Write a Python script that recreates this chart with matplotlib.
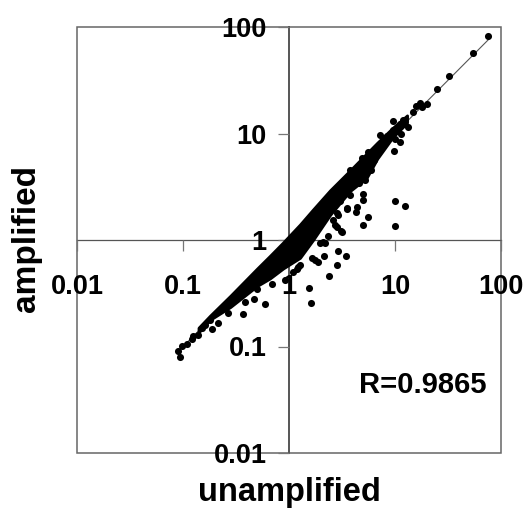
import matplotlib
matplotlib.use("Agg")
import matplotlib.pyplot as plt

plt.rcParams['font.family'] = ['Liberation Sans', 'DejaVu Sans']

# dense cloud, outline
band_x = [0.14, 0.18, 0.28, 0.5, 0.66, 0.88, 1.27, 1.68, 2.44, 3.76, 5.4, 6.8, 9.5, 13]
band_high = [0.15, 0.195, 0.30, 0.54, 0.71, 0.95, 1.4, 1.93, 2.93, 4.5, 6.5, 8.2, 11.3, 14.8]
band_low = [0.135, 0.178, 0.235, 0.37, 0.435, 0.54, 0.68, 0.995, 1.72, 2.88, 3.83, 5.8, 9.2, 12.6]

# separate points around the cloud
point_x = [9.9, 12.5, 9.9, 5.0, 5.6, 4.4, 4.3, 5.0, 5.0, 2.92, 3.45, 2.14, 2.82, 2.4, 1.54, 1.6,
           0.92, 0.69, 9.8, 11.1, 11.3,
           0.094, 0.089, 0.097, 0.121, 0.6, 0.37, 0.47,
           74.9, 54, 32, 25, 19.9, 17.4, 15.8, 17.8, 14.8, 11.9, 11.1, 9.5, 13.3, 9.6, 8.4, 10,
           2.9, 2.72, 3.07, 2.35, 1.96, 2.18, 1.64, 1.88, 1.27, 1.18, 3.5, 3.76, 5.2,
           1.09, 0.5, 0.385, 0.266, 0.214, 0.186, 0.139, 0.15, 0.18,
           4.85, 5.56, 7.2, 3.76, 0.125, 0.16, 0.11,
           2.84, 3.16, 2.84, 3.5, 2.1, 1.76, 1.22, 2.6, 3.0, 4.6, 5.9, 6.4]
point_y = [2.3, 2.1, 1.36, 1.39, 1.66, 2.03, 1.85, 2.72, 2.38, 0.79, 0.71, 0.71, 0.58, 0.455, 0.355, 0.258,
           0.42, 0.385, 6.8, 8.4, 10,
           0.079, 0.09, 0.102, 0.117, 0.249, 0.204, 0.28,
           81.7, 56.4, 34.6, 26, 19, 19.5, 18, 17.6, 15.8, 13.5, 12.2, 13, 11.4, 10.9, 9.4, 8.8,
           1.72, 1.39, 1.22, 1.09, 0.94, 0.94, 0.68, 0.62, 0.58, 0.54, 1.96, 2.66, 3.68,
           0.5, 0.35, 0.26, 0.205, 0.165, 0.145, 0.127, 0.149, 0.176,
           5.9, 6.66, 9.6, 4.5, 0.125, 0.16, 0.105,
           1.33, 1.19, 1.8, 2.0, 0.96, 0.65, 0.56, 1.55, 2.3, 3.4, 4.5, 5.6]

line_x = [0.09, 80]
line_y = [0.09, 80]

ticks = [0.01, 0.1, 1, 10, 100]
tick_labels = ['0.01', '0.1', '1', '10', '100']

fig = plt.figure(figsize=(5.25, 5.08), dpi=100)
ax = fig.add_axes([77 / 525, 1 - 453 / 508, 424 / 525, 426 / 508])
ax.set_xscale('log')
ax.set_yscale('log')
ax.set_xlim(0.01, 100)
ax.set_ylim(0.01, 100)

ax.plot(line_x, line_y, color='#555555', lw=0.8, zorder=2)
ax.fill_between(band_x, band_low, band_high, color='black', lw=2, zorder=3)
ax.scatter(point_x, point_y, s=26, color='black', lw=0, zorder=3)

# axes cross in the middle, box round the outside
ax.patch.set_edgecolor('#666666')
ax.patch.set_linewidth(1.1)
ax.spines['top'].set_visible(False)
ax.spines['right'].set_visible(False)
ax.spines['left'].set_position(('data', 1))
ax.spines['bottom'].set_position(('data', 1))
ax.spines['left'].set_color('#555555')
ax.spines['left'].set_linewidth(1.4)
ax.spines['bottom'].set_color('#555555')
ax.spines['bottom'].set_linewidth(0.9)
ax.spines['left'].set_zorder(1)
ax.spines['bottom'].set_zorder(1)

ax.set_xticks(ticks)
ax.set_xticklabels(tick_labels, fontsize=19.5, fontweight='bold')
ax.set_yticks(ticks)
ax.set_yticklabels(tick_labels, fontsize=19.5, fontweight='bold')
ax.minorticks_off()
ax.tick_params(axis='x', length=8, width=0.9, color='#777777', pad=16.5)
ax.tick_params(axis='y', length=8, width=0.9, color='#777777', pad=8)
for lab in ax.get_xticklabels() + ax.get_yticklabels():
    lab.set_clip_on(False)
    lab.set_zorder(5)

fig.text(289 / 525, 1 - 492 / 508, 'unamplified', fontsize=23.5, fontweight='bold', ha='center', va='center')
fig.text(27 / 525, 1 - 239 / 508, 'amplified', fontsize=24, fontweight='bold', ha='center', va='center', rotation=90)
fig.text(423 / 525, 1 - 385 / 508, 'R=0.9865', fontsize=21, fontweight='bold', ha='center', va='center')

fig.savefig('out.png', dpi=100)
